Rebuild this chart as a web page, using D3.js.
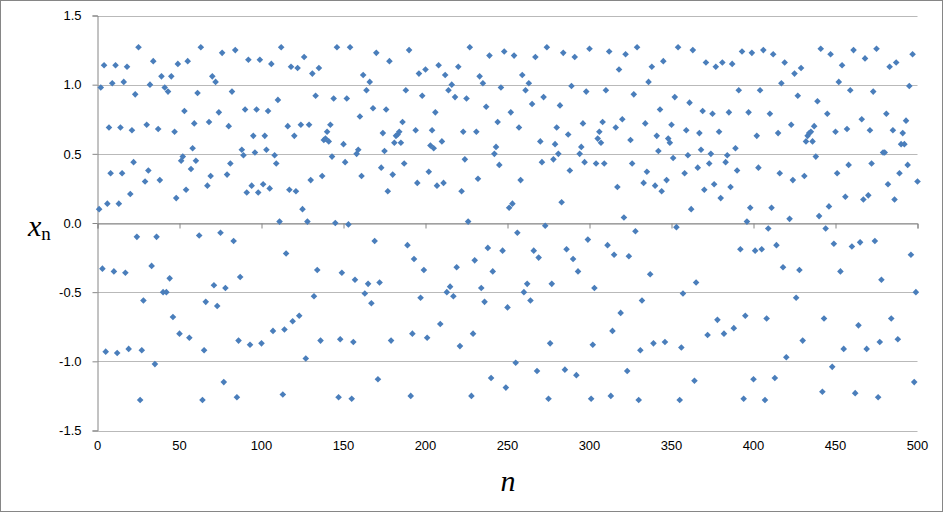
<!DOCTYPE html>
<html><head><meta charset="utf-8">
<script src="https://cdn.jsdelivr.net/npm/d3@7"></script>
<style>body{margin:0;background:#fff}svg{display:block}</style>
</head><body><svg id="c" width="943" height="512"></svg>
<script>
const xTicks = [0,50,100,150,200,250,300,350,400,450,500];
const yTicks = [-1.5,-1.0,-0.5,0.0,0.5,1.0,1.5];
const xnValues = [
0.10,0.98,-0.33,1.14,-0.93,0.14,0.69,0.36,1.01,-0.35,
1.14,-0.94,0.14,0.69,0.36,1.02,-0.36,1.13,-0.91,0.21,
0.67,0.44,0.93,-0.10,1.27,-1.28,-0.92,-0.56,0.30,0.71,
0.38,1.00,-0.31,1.17,-1.02,-0.10,0.68,0.31,1.06,-0.50,
0.98,
-0.50,0.95,-0.40,1.06,-0.68,0.66,0.18,1.15,-0.80,0.45,
0.48,0.81,0.24,1.17,-0.83,0.39,0.54,0.72,0.45,0.94,
-0.09,1.27,-1.28,-0.92,-0.57,0.27,0.73,0.34,1.06,-0.45,
1.02,-0.60,0.80,-0.07,1.23,-1.15,-0.47,0.35,0.70,0.43,
0.95,-0.13,1.25,
-1.26,-0.85,-0.39,0.53,0.49,0.82,0.22,1.18,-0.88,0.27,
0.63,0.51,0.82,0.22,1.18,-0.87,0.28,0.63,0.53,0.81,
0.25,1.15,-0.78,0.49,0.43,0.89,0.01,1.27,-1.24,-0.77,
-0.22,0.70,0.24,1.13,-0.71,0.63,0.23,1.12,-0.67,0.71,
0.10,1.20,
-0.98,0.01,0.71,0.31,1.08,-0.53,0.92,-0.34,1.12,-0.85,
0.34,0.60,0.61,0.66,0.59,0.71,0.48,0.90,0.00,1.27,
-1.26,-0.84,-0.36,0.57,0.44,0.90,-0.01,1.27,-1.27,-0.86,
-0.41,0.50,0.53,0.77,0.34,1.07,-0.51,0.96,-0.44,1.02,
-0.58,0.83,
-0.13,1.23,-1.13,-0.43,0.40,0.65,0.52,0.82,0.23,1.17,
-0.85,0.35,0.58,0.63,0.64,0.66,0.58,0.73,0.43,0.96,
-0.16,1.25,-1.25,-0.80,-0.26,0.67,0.29,1.08,-0.54,0.92,
-0.34,1.11,-0.83,0.37,0.56,0.67,0.54,0.80,0.27,1.14,
-0.73,0.59,
0.29,1.07,-0.50,0.96,-0.46,1.00,-0.53,0.91,-0.32,1.13,
-0.89,0.23,0.66,0.46,0.90,0.01,1.27,-1.25,-0.80,-0.27,
0.66,0.32,1.06,-0.47,1.01,-0.57,0.84,-0.18,1.21,-1.12,
-0.35,0.50,0.55,0.73,0.42,0.98,-0.20,1.24,-1.19,-0.61,
0.11,0.80,
0.14,1.21,-1.01,-0.07,0.69,0.31,1.07,-0.50,0.96,-0.44,
1.01,-0.56,0.86,-0.20,1.20,-1.07,-0.25,0.59,0.44,0.91,
-0.02,1.27,-1.27,-0.87,-0.44,0.46,0.57,0.69,0.50,0.85,
0.15,1.23,-1.06,-0.19,0.64,0.38,0.99,-0.26,1.20,-1.10,
-0.35,0.50,
0.55,0.72,0.44,0.95,-0.12,1.26,-1.27,-0.88,-0.47,0.43,
0.61,0.66,0.58,0.73,0.43,0.96,-0.16,1.24,-1.25,-0.78,
-0.23,0.69,0.26,1.11,-0.65,0.75,0.04,1.22,-1.07,-0.24,
0.60,0.43,0.93,-0.06,1.27,-1.28,-0.92,-0.56,0.29,0.72,
0.37,1.02,
-0.37,1.13,-0.87,0.27,0.63,0.52,0.82,0.23,1.17,-0.86,
0.31,0.61,0.58,0.71,0.47,0.91,-0.03,1.27,-1.28,-0.90,
-0.51,0.36,0.67,0.49,0.87,0.10,1.25,-1.14,-0.43,0.40,
0.65,0.53,0.81,0.24,1.16,-0.81,0.43,0.50,0.79,0.28,
1.13,-0.70,
0.66,0.18,1.16,-0.80,0.44,0.49,0.80,0.26,1.15,-0.76,
0.54,0.38,0.96,-0.19,1.24,-1.27,-0.67,0.01,0.80,0.11,
1.23,-1.13,-0.20,0.63,0.40,0.96,-0.19,1.25,-1.28,-0.69,
-0.04,0.79,0.11,1.22,-1.12,-0.16,0.65,0.36,1.01,-0.32,
1.16,-0.97,
0.03,0.71,0.31,1.08,-0.54,0.92,-0.34,1.12,-0.85,0.34,
0.59,0.63,0.65,0.66,0.59,0.70,0.48,0.88,0.05,1.26,
-1.22,-0.69,-0.04,0.79,0.12,1.22,-1.04,-0.15,0.66,0.36,
1.02,-0.35,1.14,-0.91,0.19,0.68,0.42,0.96,-0.17,1.25,
-1.23,
-0.74,-0.14,0.75,0.17,1.19,-0.91,0.20,0.67,0.43,0.95,
-0.13,1.26,-1.26,-0.86,-0.41,0.51,0.51,0.79,0.28,1.13,
-0.69,0.67,0.17,1.16,-0.84,0.36,0.57,0.65,0.57,0.74,
0.42,0.99,-0.23,1.22,-1.15,-0.50,0.30
];
// n for each point read above (two points near n = 421 and n = 463 could not be resolved)
const nValues = [...d3.range(1, 421), ...d3.range(422, 463), ...d3.range(464, 501)];

const svg = d3.select('#c');
const W = 943, H = 512;
const pL = 97.5, pR = 917.5, pT = 15.5, pB = 430.5;
const x = d3.scaleLinear().domain([0, 500]).range([pL, pR]);
const y = d3.scaleLinear().domain([-1.5, 1.5]).range([pB, pT]);

svg.append('rect').attr('x', 0.5).attr('y', 0.5).attr('width', W - 1).attr('height', H - 1)
  .attr('fill', '#fff').attr('stroke', '#868686');

// gridlines
svg.append('g').selectAll('line').data(yTicks).join('line')
  .attr('x1', pL).attr('x2', pR)
  .attr('y1', d => Math.round(y(d)) + 0.5).attr('y2', d => Math.round(y(d)) + 0.5)
  .attr('stroke', '#b9b9b9').attr('stroke-width', 1);

// y axis
const yAxis = d3.axisLeft(y).tickValues(yTicks).tickSize(5).tickFormat(d => d3.format('.1f')(d).replace('\u2212', '-'));
const gy = svg.append('g').attr('transform', `translate(${pL},0)`).call(yAxis);
gy.select('.domain').attr('stroke', '#868686');
gy.selectAll('.tick line').attr('stroke', '#868686');
gy.selectAll('.tick text').attr('font-family', 'Liberation Sans, Arial, sans-serif')
  .attr('font-size', 13).attr('fill', '#000').attr('x', -16);

// x axis at y = 0 with ticks, labels at bottom
const xAxis = d3.axisBottom(x).tickValues(xTicks).tickSize(5).tickFormat('');
const gx = svg.append('g').attr('transform', `translate(0,${Math.round(y(0)) + 0.5})`).call(xAxis);
gx.select('.domain').attr('stroke', '#868686');
gx.selectAll('.tick line').attr('stroke', '#868686');
svg.append('g').selectAll('text').data(xTicks).join('text')
  .attr('x', d => x(d)).attr('y', pB + 19)
  .attr('text-anchor', 'middle')
  .attr('font-family', 'Liberation Sans, Arial, sans-serif').attr('font-size', 13)
  .attr('fill', '#000').text(d => d);

// points
const diamond = 'M0,-3.3L3.3,0L0,3.3L-3.3,0Z';
svg.append('g').selectAll('path').data(xnValues).join('path')
  .attr('transform', (d, i) => `translate(${x(nValues[i])},${y(d)})`)
  .attr('d', diamond).attr('fill', '#4a7ebb');

// axis titles
const ty = svg.append('text').attr('x', 28).attr('y', 236)
  .attr('font-family', 'Liberation Serif, Times New Roman, serif').attr('fill', '#000');
ty.append('tspan').attr('font-size', 30).attr('font-style', 'italic').text('x');
ty.append('tspan').attr('font-size', 19).attr('dy', 4).text('n');

svg.append('text').attr('x', 508).attr('y', 491).attr('text-anchor', 'middle')
  .attr('font-family', 'Liberation Serif, Times New Roman, serif').attr('font-size', 30)
  .attr('font-style', 'italic').attr('fill', '#000').text('n');
</script>
</body></html>
